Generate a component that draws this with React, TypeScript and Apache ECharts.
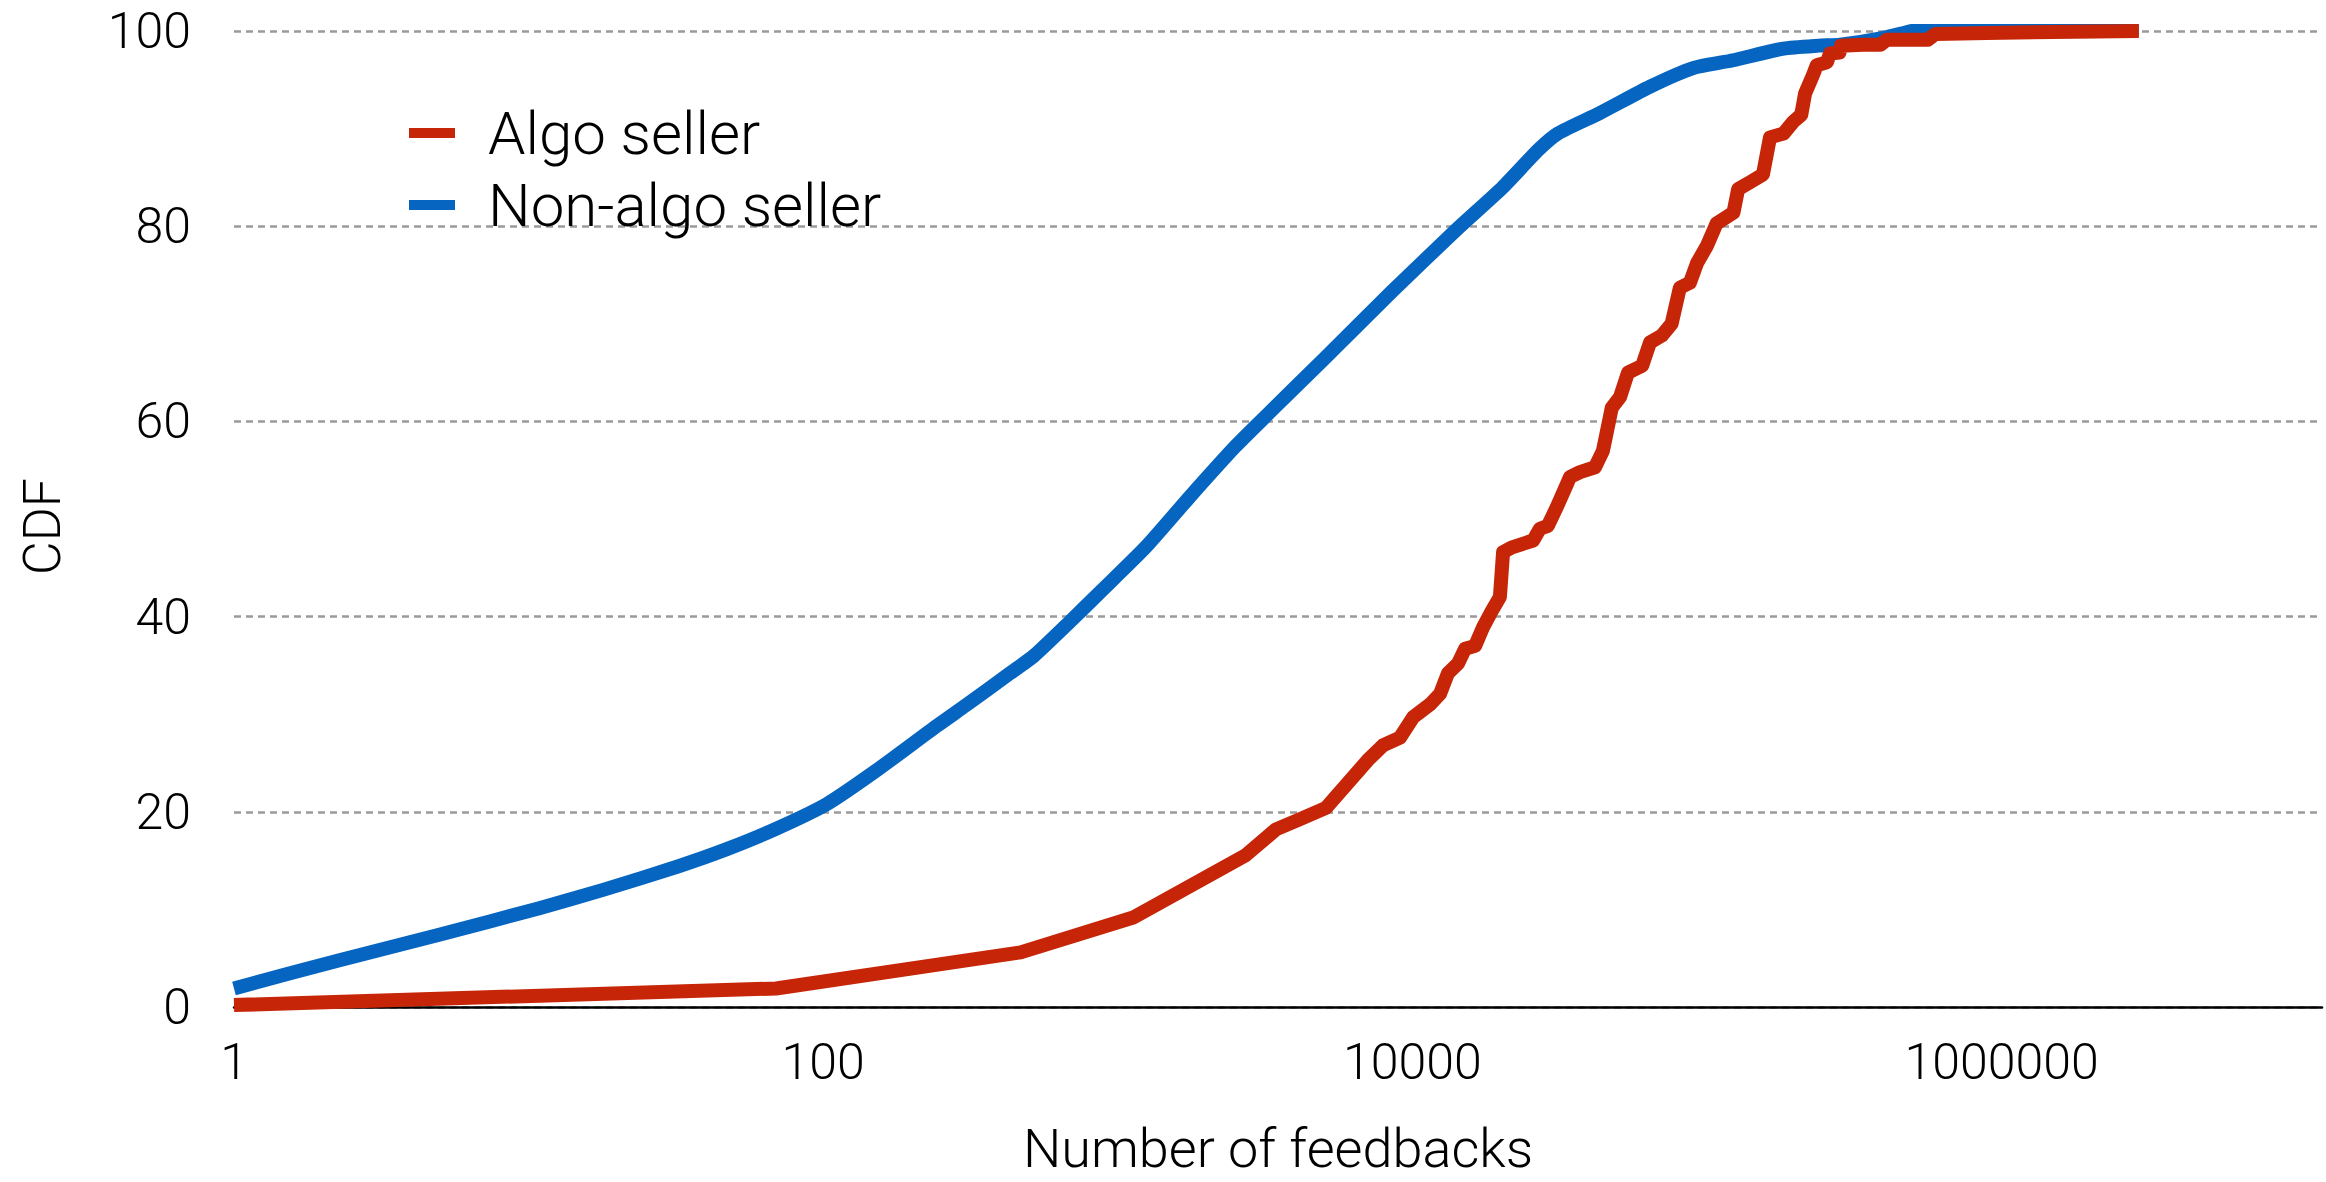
import React, { useEffect, useRef } from "react";
import * as echarts from "echarts";

// Number of feedbacks (x) and CDF % (y)
const algoX = [1, 69.2, 468, 1135, 2704, 3443, 4121, 5093, 7063, 7943, 9078, 10070, 11480, 12420, 13210, 14290, 15100, 16330, 17380, 18620, 19820, 20320, 21780, 25700, 27100, 28840, 30900, 33500, 34280, 37070, 41690, 44360, 47530, 50700, 53950, 60260, 64120, 70310, 75860, 80910, 87500, 92470, 100000, 107900, 123000, 127600, 140000, 154900, 163700, 182000, 196300, 208900, 215300, 229100, 236000, 255300, 261800, 281800, 285100, 338800, 389000, 407400, 562300, 595700, 891300, 2924000];
const algoY = [0.2, 1.9, 5.6, 9.2, 15.5, 18.2, 19.2, 20.4, 25.3, 26.8, 27.6, 29.7, 31.0, 32.1, 34.2, 35.2, 36.7, 37.0, 38.9, 40.6, 42.0, 46.6, 47.1, 47.8, 49.0, 49.3, 51.2, 53.6, 54.3, 54.8, 55.3, 57.0, 61.4, 62.5, 65.0, 65.7, 68.1, 68.8, 70.0, 73.7, 74.2, 76.2, 78.0, 80.3, 81.4, 83.8, 84.5, 85.3, 89.1, 89.5, 90.7, 91.4, 93.6, 95.5, 96.5, 96.8, 97.7, 97.8, 98.5, 98.6, 98.6, 99.1, 99.1, 99.7, 99.8, 100];

const nonAlgoX = [1, 2.28, 4.97, 10.8, 17.9, 32.1, 47.3, 69.7, 103, 151, 243, 308, 431, 520, 689, 877, 1242, 1758, 2500, 3296, 5012, 8453, 14290, 20280, 26730, 31190, 43350, 64120, 89740, 122700, 182000, 239900, 283100, 398100, 512900, 588800, 2924000];
const nonAlgoY = [1.9, 4.8, 7.4, 10.1, 12.0, 14.4, 16.2, 18.3, 20.8, 24.2, 28.8, 31.0, 34.2, 36.0, 39.5, 42.6, 47.1, 52.3, 57.4, 61.0, 66.4, 73.2, 79.8, 84.0, 87.8, 89.5, 91.6, 94.3, 96.2, 97.0, 98.2, 98.5, 98.6, 99.3, 100.1, 100.3, 100.2];

const xTickLabels = ["1", "100", "10000", "1000000"];
const seriesNames = ["Algo seller", "Non-algo seller"];
const seriesColors = ["#C72508", "#0565C0"];
const xAxisTitle = "Number of feedbacks";
const yAxisTitle = "CDF";

const FONT = "Roboto, 'Liberation Sans', Arial, sans-serif";

export default function App() {
  const ref = useRef<HTMLDivElement>(null);
  useEffect(() => {
    const chart = echarts.init(ref.current!, null, { renderer: "svg" });
    const toPairs = (xs: number[], ys: number[]) => xs.map((x, i) => [x, ys[i]]);
    chart.setOption({
      animation: false,
      backgroundColor: "#ffffff",
      textStyle: { fontFamily: FONT, fontWeight: 300, color: "#000" },
      grid: { left: 234, right: 4, top: 31, bottom: 175, containLabel: false, outerBoundsMode: "none" },
      legend: {
        data: seriesNames,
        orient: "vertical",
        left: 404,
        top: 98,
        itemGap: 12,
        itemWidth: 46,
        itemHeight: 10,
        icon: "rect",
        textStyle: { fontSize: 60, fontFamily: FONT, fontWeight: 300, color: "#000", padding: [0, 0, 0, 28] },
      },
      xAxis: {
        type: "log",
        logBase: 10,
        min: 1,
        max: 12240000,
        name: xAxisTitle,
        nameLocation: "middle",
        nameGap: 116,
        nameTextStyle: { fontSize: 54, lineHeight: 50, fontFamily: FONT, fontWeight: 300, color: "#000" },
        axisLine: { show: true, lineStyle: { color: "#000", width: 2.5 } },
        axisTick: { show: false },
        splitLine: { show: false },
        minorSplitLine: { show: false },
        axisLabel: {
          fontSize: 50,
          fontFamily: FONT,
          fontWeight: 300,
          color: "#000",
          margin: 30,
          formatter: (v: number) => {
            const s = String(Math.round(v));
            return xTickLabels.includes(s) ? s : "";
          },
        },
      },
      yAxis: {
        type: "value",
        min: 0,
        max: 100,
        interval: 20,
        name: yAxisTitle,
        nameLocation: "middle",
        nameGap: 166,
        nameRotate: 90,
        nameTextStyle: { fontSize: 52, fontFamily: FONT, fontWeight: 300, color: "#000", padding: [0, 15, 0, 0] },
        axisLine: { show: false },
        axisTick: { show: false },
        axisLabel: { fontSize: 50, fontFamily: FONT, fontWeight: 300, color: "#000", margin: 43 },
        splitLine: { show: true, lineStyle: { color: "#9a9a9a", width: 2.5, type: [7, 5] } },
      },
      series: [
        {
          name: seriesNames[1],
          type: "line",
          data: toPairs(nonAlgoX, nonAlgoY),
          showSymbol: false,
          symbol: "none",
          smooth: 0.2,
          color: seriesColors[1],
          lineStyle: { width: 14, color: seriesColors[1], join: "round" },
          z: 2,
        },
        {
          name: seriesNames[0],
          type: "line",
          data: toPairs(algoX, algoY),
          showSymbol: false,
          symbol: "none",
          color: seriesColors[0],
          lineStyle: { width: 14, color: seriesColors[0], join: "round" },
          z: 3,
        },
      ],
    });
    return () => chart.dispose();
  }, []);
  return (
    <div
      ref={ref}
      style={{ position: "fixed", left: 0, top: 0, width: 2326, height: 1182, background: "#fff" }}
    />
  );
}
